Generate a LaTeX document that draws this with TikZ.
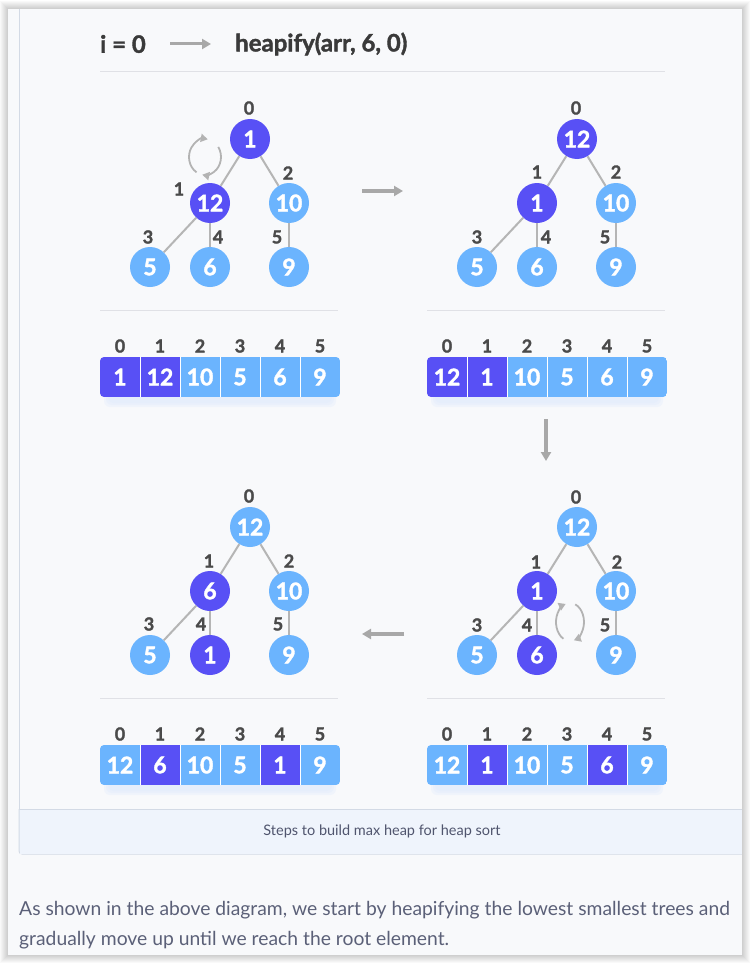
\documentclass[tikz,border=0pt]{standalone}
\usepackage{fontspec}
\setmainfont{Lato}
\newfontfamily\heavy[BoldFeatures={FakeBold=1.6}]{Lato}
\usetikzlibrary{arrows.meta}
\definecolor{dk}{HTML}{5850F5}
\definecolor{lt}{HTML}{6BB4FE}
\definecolor{edgec}{HTML}{B5B5B5}
\definecolor{arrc}{HTML}{A8A8A8}
\definecolor{swapc}{HTML}{B3B3B3}
\definecolor{idx}{HTML}{4A4A4A}
\definecolor{cardbg}{HTML}{F8F9FB}
\definecolor{capbg}{HTML}{EFF4FC}
\definecolor{capline}{HTML}{D3DAE5}
\definecolor{sepc}{HTML}{E0E1E6}
\definecolor{txt}{HTML}{5B6078}
\definecolor{captxt}{HTML}{50556E}
\definecolor{ttl}{HTML}{3A3A3A}
\definecolor{glow}{HTML}{DCE9FC}
\newcommand\myarray[4]{% #1 name, #2 x0, #3 y-top, #4 list
  \foreach \g in {0,2,4}{\fill[glow,opacity=0.28,rounded corners=6pt] (#2+4+\g,#3+8) rectangle (#2+236-\g,#3+50-\g);}
  \begin{scope}
  \clip[rounded corners=4pt] (#2,#3) rectangle (#2+240,#3+40);
  \foreach \c/\v [count=\i from 0] in {#4}{
    \node[cell,fill=\c] (#1c\i) at (#2+20+40*\i,#3+20) {\v};
  }
  \end{scope}
  \foreach \i in {0,...,5}{
    \node[ix] (#1i\i) at (#2+20+40*\i,#3-11) {\i};
  }
  \foreach \i in {1,...,5}{\draw[cellsep] (#2+40*\i,#3) -- (#2+40*\i,#3+40);}
}
\begin{document}
\begin{tikzpicture}[x=1pt,y=-1pt,
  hn/.style={circle,minimum size=40pt,inner sep=0pt,text=white,font=\heavy\bfseries\fontsize{23}{23}\selectfont},
  hd/.style={hn,fill=dk}, hl/.style={hn,fill=lt},
  ix/.style={text=idx,font=\heavy\bfseries\fontsize{18}{18}\selectfont,inner sep=0pt},
  ed/.style={draw=edgec,line width=2pt},
  cell/.style={minimum width=40pt,minimum height=40pt,inner sep=0pt,text=white,font=\heavy\bfseries\fontsize{23}{23}\selectfont},
  cellsep/.style={draw=white,line width=1pt},
  bigarrow/.style={draw=arrc,line width=3.5pt,-{Triangle[length=9pt,width=10pt]}},
  swaparrow/.style={draw=swapc,line width=1.8pt,-{Triangle[length=7pt,width=8pt]}},
  sepline/.style={draw=sepc,line width=1pt}]
\useasboundingbox (0,0) rectangle (750,963);
% page and card
\fill[white] (0,0) rectangle (750,963);
\foreach \k in {1,...,8}{\fill[black,opacity=0.022] (8-\k,9-\k) rectangle (742+\k,955+\k);}
\fill[cardbg] (8,9) rectangle (742,955);
% figure frame and caption
\draw[capline,line width=1pt] (19,9) -- (19,850);
\path[fill=capbg,draw=capline,line width=1pt,rounded corners=3pt] (19,809) -- (19,854) -- (742,854);
\fill[capbg] (19.5,809.5) rectangle (742,853.5);
\draw[capline,line width=1pt] (19,809) -- (742,809);
\node[text=captxt,font=\fontsize{14.5}{14.5}\selectfont] (cap) at (382,831) {Steps to build max heap for heap sort};
% title
\node[anchor=west,text=ttl,font=\heavy\bfseries\fontsize{24}{24}\selectfont,inner sep=0pt] (ti) at (100,44) {i = 0};
\node[anchor=west,text=ttl,font=\heavy\bfseries\fontsize{24}{24}\selectfont,inner sep=0pt] (th) at (235,44) {heapify(arr, 6, 0)};
\coordinate (ta1) at (170,44); \coordinate (ta2) at (211,44);
\draw[bigarrow,line width=3pt] (ta1) -- (ta2);
\draw[sepline] (100,72) -- (665,72);
% separators
\draw[sepline] (100,310) -- (338,310);
\draw[sepline] (427,310) -- (665,310);
\draw[sepline] (100,698) -- (338,698);
\draw[sepline] (427,698) -- (665,698);
% ---------------- tree 1 (top-left)
\node[hd] (t1r) at (250,139) {1};
\node[hd] (t1a) at (210,203) {12};
\node[hl] (t1b) at (289,203) {10};
\node[hl] (t1c) at (150,267) {5};
\node[hl] (t1d) at (210,267) {6};
\node[hl] (t1e) at (289,267) {9};
\node[ix] (t1i0) at (249,108) {0};
\node[ix] (t1i1) at (179,189) {1};
\node[ix] (t1i2) at (288,173) {2};
\node[ix] (t1i3) at (148,237) {3};
\node[ix] (t1i4) at (218,237) {4};
\node[ix] (t1i5) at (277,237) {5};
% ---------------- tree 2 (top-right)
\node[hd] (t2r) at (577,139) {12};
\node[hd] (t2a) at (537,203) {1};
\node[hl] (t2b) at (616,203) {10};
\node[hl] (t2c) at (477,267) {5};
\node[hl] (t2d) at (537,267) {6};
\node[hl] (t2e) at (616,267) {9};
\node[ix] (t2i0) at (576,108) {0};
\node[ix] (t2i1) at (537,172) {1};
\node[ix] (t2i2) at (616,172) {2};
\node[ix] (t2i3) at (477,237) {3};
\node[ix] (t2i4) at (546,237) {4};
\node[ix] (t2i5) at (605,237) {5};
% ---------------- tree 3 (bottom-right)
\node[hl] (t3r) at (577,527) {12};
\node[hd] (t3a) at (537,591) {1};
\node[hl] (t3b) at (616,591) {10};
\node[hl] (t3c) at (477,655) {5};
\node[hd] (t3d) at (537,655) {6};
\node[hl] (t3e) at (616,655) {9};
\node[ix] (t3i0) at (576,497) {0};
\node[ix] (t3i1) at (536,562) {1};
\node[ix] (t3i2) at (617,562) {2};
\node[ix] (t3i3) at (477,625) {3};
\node[ix] (t3i4) at (527,625) {4};
\node[ix] (t3i5) at (605,625) {5};
% ---------------- tree 4 (bottom-left)
\node[hl] (t4r) at (250,527) {12};
\node[hd] (t4a) at (210,591) {6};
\node[hl] (t4b) at (289,591) {10};
\node[hl] (t4c) at (150,655) {5};
\node[hd] (t4d) at (210,655) {1};
\node[hl] (t4e) at (289,655) {9};
\node[ix] (t4i0) at (249,496) {0};
\node[ix] (t4i1) at (209,561) {1};
\node[ix] (t4i2) at (289,561) {2};
\node[ix] (t4i3) at (149,624) {3};
\node[ix] (t4i4) at (201,624) {4};
\node[ix] (t4i5) at (278,624) {5};
% edges
\foreach \t in {t1,t2,t3,t4}{
  \draw[ed] (\t r) -- (\t a);
  \draw[ed] (\t r) -- (\t b);
  \draw[ed] (\t a) -- (\t c);
  \draw[ed] (\t a) -- (\t d);
  \draw[ed] (\t b) -- (\t e);
}
% swap icons
\coordinate (s1) at (205,157);
\draw[swaparrow] (s1) ++(122:16 and 18) arc[start angle=122,end angle=280,x radius=16,y radius=18];
\draw[swaparrow] (s1) ++(-34:16 and 18) arc[start angle=-34,end angle=100,x radius=16,y radius=18];
\coordinate (s2) at (570,622);
\draw[swaparrow] (s2) ++(118:14 and 19) arc[start angle=118,end angle=252,x radius=14,y radius=19];
\draw[swaparrow] (s2) ++(-68:14 and 19) arc[start angle=-68,end angle=74,x radius=14,y radius=19];
% arrays
\myarray{a1}{100}{357}{dk/1,dk/12,lt/10,lt/5,lt/6,lt/9}
\myarray{a2}{427}{357}{dk/12,dk/1,lt/10,lt/5,lt/6,lt/9}
\myarray{a3}{427}{745}{lt/12,dk/1,lt/10,lt/5,dk/6,lt/9}
\myarray{a4}{100}{745}{lt/12,dk/6,lt/10,lt/5,dk/1,lt/9}
% step arrows
\coordinate (r1) at (362,191); \coordinate (r2) at (403,191);
\draw[bigarrow] (r1) -- (r2);
\coordinate (d1) at (546,419); \coordinate (d2) at (546,461);
\draw[bigarrow] (d1) -- (d2);
\coordinate (l1) at (404,634); \coordinate (l2) at (362,634);
\draw[bigarrow] (l1) -- (l2);
% paragraph
\node[anchor=west,text=txt,font=\fontsize{19.3}{19.3}\selectfont,inner sep=0pt] (p1) at (19,910) {As shown in the above diagram, we start by heapifying the lowest smallest trees and};
\node[anchor=west,text=txt,font=\fontsize{19.3}{19.3}\selectfont,inner sep=0pt] (p2) at (19,940) {gradually move up until we reach the root element.};
\end{tikzpicture}
\end{document}
